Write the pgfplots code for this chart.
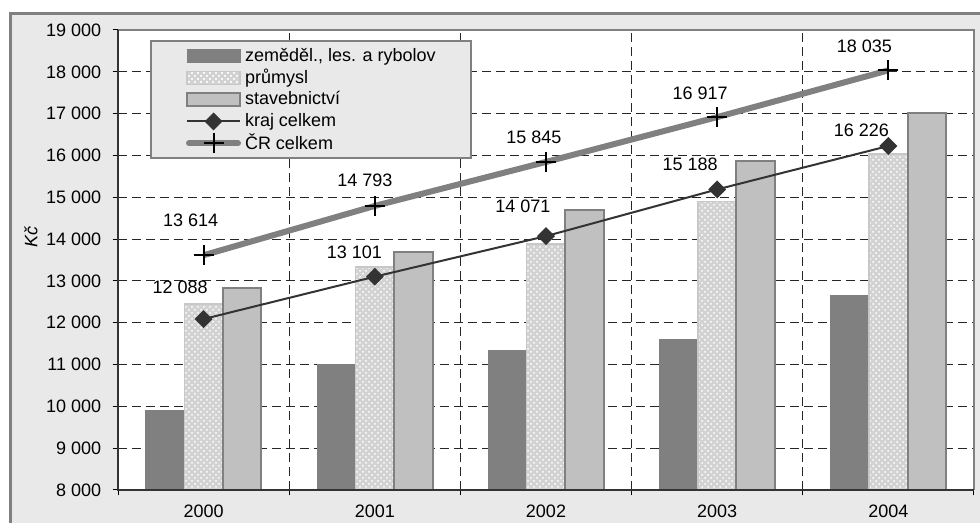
\documentclass[border=0pt]{standalone}
\usepackage{fontspec}
\setmainfont{Liberation Sans}
\usepackage{pgfplots}
\pgfplotsset{compat=1.18}
\usetikzlibrary{patterns}
\definecolor{bg}{HTML}{E9E9E9}
\definecolor{g50}{HTML}{808080}
\definecolor{g75}{HTML}{C0C0C0}
\definecolor{gpat}{HTML}{D2D2D2}
\definecolor{gpb}{HTML}{C8C8C8}
\definecolor{dk}{HTML}{333333}
\begin{document}
\fontsize{9}{10.8}\selectfont
\begin{tikzpicture}[font=\fontsize{9}{10.8}\selectfont]
\useasboundingbox (0pt,0pt) rectangle (490pt,261.5pt);
\fill[bg] (5pt,-10pt) rectangle (500pt,254.5pt);
\draw[g50,line width=1.5pt] (500pt,254.5pt) -- (5pt,254.5pt) -- (5pt,-10pt);
\node[rotate=90,font=\fontsize{9}{10.8}\selectfont\itshape] at (15.5pt,142.75pt) {Kč};
\begin{axis}[
  at={(59pt,16.5pt)}, anchor=south west,
  scale only axis, width=428pt, height=230pt,
  xmin=-0.5, xmax=4.5, ymin=8000, ymax=19000,
  xtick={-0.5,0.5,...,4.5},
  x tick label as interval,
  xticklabels={2000,2001,2002,2003,2004},
  ytick={8000,9000,...,19000},
  scaled y ticks=false,
  tick pos=left, tick align=outside, major tick length=2.75pt,
  every tick/.style={black, line width=0.5pt},
  grid=major,
  major grid style={black!85, line width=0.5pt, dash pattern=on 4.5pt off 2.5pt},
  axis line style={draw=none},
  axis background/.style={fill=white},
  clip mode=individual,
  /pgf/number format/1000 sep={\ },
  /pgf/number format/assume math mode=true,
  yticklabel style={xshift=-2.5pt},
  xticklabel style={yshift=-1.75pt},
  legend cell align=left,
  legend style={at={(axis description cs:0.0374,0.978)}, anchor=north west,
    fill=bg, draw=g50, line width=1pt, inner xsep=17.5pt, inner ysep=2pt,
    row sep=0pt, column sep=2pt,
    nodes={inner sep=0pt, minimum height=10.9pt},
    font=\fontsize{9}{10.8}\selectfont},
]
\addplot[ybar, bar width=0.225, bar shift=-0.225, fill=g50, draw=g50, line width=0.5pt,
  legend image code/.code={\draw[fill=g50,draw=g50,line width=0.5pt] (0pt,-3.25pt) rectangle (26.5pt,3.25pt);}]
  coordinates {(0,9890) (1,11005) (2,11340) (3,11610) (4,12640)};
\addlegendentry{zeměděl., les. a rybolov}
\addplot[ybar, bar width=0.225, bar shift=0, fill=gpat, draw=gpb, line width=0.75pt,
  postaction={pattern=crosshatch dots, pattern color=white},
  legend image code/.code={\draw[fill=gpat,draw=gpb,line width=0.75pt,postaction={pattern=crosshatch dots, pattern color=white}] (0pt,-3.25pt) rectangle (26.5pt,3.25pt);}]
  coordinates {(0,12450) (1,13330) (2,13885) (3,14900) (4,16030)};
\addlegendentry{průmysl}
\addplot[ybar, bar width=0.225, bar shift=0.225, fill=g75, draw=g50, line width=1pt,
  legend image code/.code={\draw[fill=g75,draw=g50,line width=1pt] (0pt,-3.25pt) rectangle (26.5pt,3.25pt);}]
  coordinates {(0,12840) (1,13700) (2,14700) (3,15860) (4,17010)};
\addlegendentry{stavebnictví}
\addplot[dk, line width=1pt, mark=square*, mark size=2.65pt, mark options={rotate=45, fill=dk, draw=dk},
  legend image code/.code={\draw[dk,line width=1pt] (0pt,0pt) -- (26.5pt,0pt); \fill[dk] (13.25pt,3.75pt) -- (17pt,0pt) -- (13.25pt,-3.75pt) -- (9.5pt,0pt) -- cycle;}]
  coordinates {(0,12088) (1,13101) (2,14071) (3,15188) (4,16226)};
\addlegendentry{kraj celkem}
\addplot[g50, line width=3pt, mark=+, mark size=5pt, mark options={black, line width=1pt},
  legend image code/.code={\draw[g50,line width=3pt,line cap=round] (1pt,0pt) -- (25.5pt,0pt); \draw[black,line width=1pt] (8.25pt,0pt) -- (18.25pt,0pt) (13.25pt,-5pt) -- (13.25pt,5pt);}]
  coordinates {(0,13614) (1,14793) (2,15845) (3,16917) (4,18035)};
\addlegendentry{ČR celkem}
\node[xshift=-11.75pt,yshift=16pt] at (axis cs:0,12088) {12 088};
\node[xshift=-10.25pt,yshift=12pt] at (axis cs:1,13101) {13 101};
\node[xshift=-11.5pt,yshift=15pt] at (axis cs:2,14071) {14 071};
\node[xshift=-13.5pt,yshift=12.5pt] at (axis cs:3,15188) {15 188};
\node[xshift=-13.5pt,yshift=8pt] at (axis cs:4,16226) {16 226};
\node[xshift=-6.5pt,yshift=17.5pt] at (axis cs:0,13614) {13 614};
\node[xshift=-5pt,yshift=13pt] at (axis cs:1,14793) {14 793};
\node[xshift=-6pt,yshift=12.5pt] at (axis cs:2,15845) {15 845};
\node[xshift=-8.5pt,yshift=12pt] at (axis cs:3,16917) {16 917};
\node[xshift=-12pt,yshift=12pt] at (axis cs:4,18035) {18 035};
\draw[g50,line width=1pt] (rel axis cs:0,1) -- (rel axis cs:1,1) -- (rel axis cs:1,0);
\draw[black!80,line width=0.75pt] (rel axis cs:0,1) -- (rel axis cs:0,0) -- (rel axis cs:1,0);
\end{axis}
\end{tikzpicture}
\end{document}
